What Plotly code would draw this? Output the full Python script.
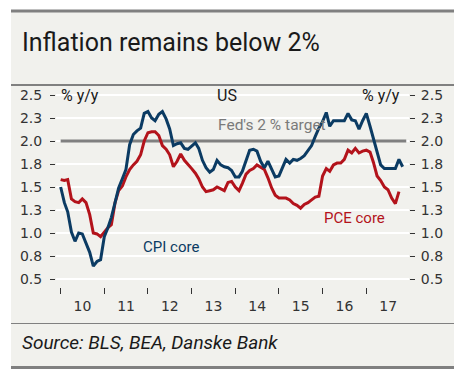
import plotly.graph_objects as go
import pandas as pd

# ---------------- data ----------------
cpi_core = [
    1.50, 1.33, 1.23, 1.01, 0.91, 1.00, 0.99, 0.90, 0.79, 0.64, 0.69, 0.71,   # 2010
    0.96, 1.06, 1.17, 1.33, 1.49, 1.59, 1.69, 1.96, 2.07, 2.11, 2.14, 2.30,   # 2011
    2.32, 2.25, 2.22, 2.29, 2.32, 2.24, 2.13, 1.95, 1.97, 1.98, 1.92, 1.91,   # 2012
    1.94, 1.98, 1.92, 1.79, 1.71, 1.66, 1.69, 1.79, 1.74, 1.72, 1.71, 1.68,   # 2013
    1.61, 1.61, 1.67, 1.80, 1.90, 1.91, 1.89, 1.78, 1.71, 1.78, 1.69, 1.61,   # 2014
    1.62, 1.71, 1.80, 1.76, 1.80, 1.79, 1.81, 1.84, 1.89, 1.95, 2.05, 2.14,   # 2015
    2.21, 2.31, 2.16, 2.22, 2.22, 2.22, 2.22, 2.30, 2.23, 2.22, 2.13, 2.22,   # 2016
    2.30, 2.16, 2.03, 1.90, 1.74, 1.70, 1.70, 1.70, 1.70, 1.80, 1.72,         # 2017
]
pce_core = [
    1.58, 1.57, 1.58, 1.37, 1.34, 1.33, 1.37, 1.33, 1.20, 1.00, 0.99, 0.96,   # 2010
    1.01, 1.06, 1.09, 1.33, 1.46, 1.51, 1.61, 1.69, 1.74, 1.78, 1.85, 2.00,   # 2011
    2.09, 2.10, 2.10, 2.06, 1.95, 1.91, 1.85, 1.72, 1.78, 1.86, 1.79, 1.75,   # 2012
    1.70, 1.65, 1.59, 1.50, 1.45, 1.46, 1.47, 1.50, 1.48, 1.46, 1.55, 1.56,   # 2013
    1.50, 1.46, 1.54, 1.64, 1.68, 1.70, 1.74, 1.71, 1.69, 1.60, 1.49, 1.41,   # 2014
    1.38, 1.38, 1.38, 1.36, 1.32, 1.30, 1.27, 1.31, 1.33, 1.36, 1.39, 1.40,   # 2015
    1.62, 1.70, 1.67, 1.74, 1.76, 1.76, 1.80, 1.90, 1.87, 1.92, 1.87, 1.89,   # 2016
    1.90, 1.88, 1.77, 1.62, 1.57, 1.50, 1.47, 1.38, 1.32, 1.45,               # 2017
]
start_month = "2010-01-01"
fed_target = 2.0
fed_target_span = ["2010-01-01", "2017-12-01"]

y_tick_vals = [0.5, 0.75, 1.0, 1.25, 1.5, 1.75, 2.0, 2.25, 2.5]
y_tick_text = ["0.5", "0.8", "1.0", "1.3", "1.5", "1.8", "2.0", "2.3", "2.5"]

title_text = "Inflation remains below 2%"
source_text = "Source: BLS, BEA, Danske Bank"

# ---------------- styling ----------------
W, H = 465, 378
BG = "#f1f1ed"
BLUE = "#0b3b63"
RED = "#b3131b"
GREY = "#808080"
TXT = "#1a1a1a"

cpi_dates = pd.date_range(start_month, periods=len(cpi_core), freq="MS")
pce_dates = pd.date_range(start_month, periods=len(pce_core), freq="MS")


def px_x(p):
    return p / W


def px_y(p):
    return 1 - p / H


fig = go.Figure()

fig.add_trace(go.Scatter(
    x=fed_target_span, y=[fed_target, fed_target], mode="lines",
    line=dict(color=GREY, width=3), hoverinfo="skip", showlegend=False))
fig.add_trace(go.Scatter(
    x=pce_dates, y=pce_core, mode="lines", name="PCE core",
    line=dict(color=RED, width=3), showlegend=False))
fig.add_trace(go.Scatter(
    x=cpi_dates, y=cpi_core, mode="lines", name="CPI core",
    line=dict(color=BLUE, width=3), showlegend=False))
# invisible trace to activate right axis
fig.add_trace(go.Scatter(
    x=cpi_dates, y=cpi_core, mode="lines", yaxis="y2",
    line=dict(color="rgba(0,0,0,0)", width=0), hoverinfo="skip", showlegend=False))

y_range = [0.413, 2.587]
tickfont = dict(family="DejaVu Sans", size=14, color="#333333")

fig.update_layout(
    width=W, height=H,
    margin=dict(l=0, r=0, t=0, b=0),
    paper_bgcolor="white",
    plot_bgcolor=BG,
    xaxis=dict(
        domain=[px_x(56), px_x(409)],
        type="date",
        range=["2009-11-23", "2017-12-24"],
        tick0="2010-01-01", dtick="M12",
        ticklabelmode="period", tickformat="%y",
        ticks="outside", ticklen=6, tickwidth=1, tickcolor="#333333",
        showgrid=False, zeroline=False, showline=False,
        tickfont=tickfont,
    ),
    yaxis=dict(
        domain=[px_y(287), px_y(87)],
        range=y_range,
        tickvals=y_tick_vals, ticktext=y_tick_text,
        ticks="outside", ticklen=5, tickwidth=1, tickcolor="#333333",
        ticklabelstandoff=5,
        showgrid=True, gridcolor="white", gridwidth=1.5,
        zeroline=False, showline=False,
        tickfont=tickfont,
    ),
    yaxis2=dict(
        overlaying="y", side="right", anchor="x",
        range=y_range,
        tickvals=y_tick_vals, ticktext=y_tick_text,
        ticks="outside", ticklen=5, tickwidth=1, tickcolor="#333333",
        ticklabelstandoff=3,
        showgrid=False, zeroline=False, showline=False,
        tickfont=tickfont,
    ),
    font=dict(family="Roboto", color=TXT),
)

# background card & rules
shapes = [
    dict(type="rect", xref="paper", yref="paper", x0=px_x(11), x1=px_x(454),
         y0=px_y(368), y1=px_y(10), fillcolor=BG, line=dict(width=0), layer="below"),
    dict(type="line", xref="paper", yref="paper", x0=px_x(11), x1=px_x(454),
         y0=px_y(11), y1=px_y(11), line=dict(color=GREY, width=3)),
    dict(type="line", xref="paper", yref="paper", x0=px_x(11), x1=px_x(454),
         y0=px_y(85), y1=px_y(85), line=dict(color=GREY, width=2)),
    dict(type="line", xref="paper", yref="paper", x0=px_x(11), x1=px_x(454),
         y0=px_y(323.5), y1=px_y(323.5), line=dict(color=GREY, width=1)),
    dict(type="line", xref="paper", yref="paper", x0=px_x(11), x1=px_x(454),
         y0=px_y(367.5), y1=px_y(367.5), line=dict(color=GREY, width=3)),
]
fig.update_layout(shapes=shapes)


def label(text, xc, yc, size, color=TXT, xanchor="center", italic=False):
    fig.add_annotation(
        text=text, xref="paper", yref="paper", x=px_x(xc), y=px_y(yc),
        xanchor=xanchor, yanchor="middle", showarrow=False,
        font=dict(family="Roboto", size=size, color=color,
                  style="italic" if italic else "normal"))


label(title_text, 20, 43, 25, xanchor="left")
label("US", 226.7, 95, 16)
label("% y/y", 79.5, 95.5, 16)
label("% y/y", 380.5, 95.5, 16)
label("Fed's 2 % target", 271.5, 125, 15.5, color="#7a7a7a")
label("CPI core", 171, 246.7, 15, color=BLUE)
label("PCE core", 354.7, 217.7, 15, color=RED)
label(source_text, 20, 342, 19, xanchor="left", italic=True)

fig.write_html(
    "out.html",
    config=dict(displayModeBar=False),
    post_script="document.body.style.margin='0';document.body.style.overflow='hidden';",
)
